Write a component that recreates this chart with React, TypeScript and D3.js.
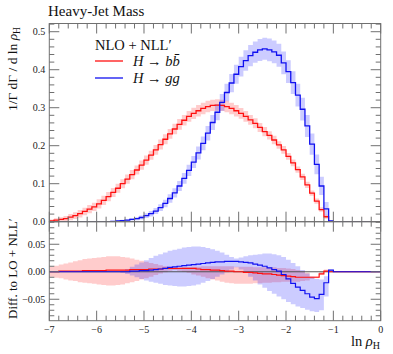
import React from 'react';
import * as d3 from 'd3';

// ---- data (bins of width 0.1 from -7 to 0) ----
const binStart = -7;
const binWidth = 0.1;

const redMain = [
  0.002, 0.004, 0.006, 0.008, 0.012, 0.016, 0.021, 0.027, 0.033, 0.039,
  0.047, 0.056, 0.066, 0.077, 0.088, 0.100, 0.112, 0.124, 0.136, 0.149,
  0.162, 0.175, 0.189, 0.203, 0.217, 0.231, 0.244, 0.256, 0.267, 0.277,
  0.285, 0.292, 0.298, 0.303, 0.306, 0.307, 0.306, 0.303, 0.298, 0.292,
  0.285, 0.277, 0.268, 0.259, 0.248, 0.237, 0.227, 0.215, 0.202, 0.189,
  0.172, 0.155, 0.137, 0.118, 0.097, 0.075, 0.054, 0.032, 0.013, 0,
  0, 0, 0, 0, 0, 0, 0, 0, 0, 0,
];
const redMainErr = [
  0.004, 0.005, 0.006, 0.007, 0.008, 0.009, 0.010, 0.010, 0.011, 0.011,
  0.012, 0.012, 0.012, 0.012, 0.012, 0.012, 0.012, 0.012, 0.012, 0.012,
  0.012, 0.012, 0.013, 0.013, 0.013, 0.013, 0.014, 0.014, 0.014, 0.014,
  0.015, 0.015, 0.015, 0.015, 0.015, 0.015, 0.015, 0.015, 0.015, 0.015,
  0.014, 0.014, 0.013, 0.013, 0.012, 0.012, 0.011, 0.011, 0.010, 0.010,
  0.009, 0.009, 0.008, 0.008, 0.008, 0.007, 0.007, 0.006, 0.005, 0,
  0, 0, 0, 0, 0, 0, 0, 0, 0, 0,
];
const blueMain = [
  0, 0, 0, 0, 0, 0, 0, 0, 0, 0,
  0, 0, 0, 0.001, 0.002, 0.003, 0.004, 0.006, 0.008, 0.011,
  0.016, 0.021, 0.028, 0.037, 0.048, 0.061, 0.076, 0.094, 0.114, 0.135,
  0.157, 0.181, 0.206, 0.233, 0.261, 0.288, 0.314, 0.340, 0.365, 0.388,
  0.408, 0.424, 0.437, 0.446, 0.452, 0.455, 0.452, 0.447, 0.438, 0.418,
  0.395, 0.366, 0.333, 0.296, 0.252, 0.204, 0.151, 0.094, 0.034, 0.002,
  0, 0, 0, 0, 0, 0, 0, 0, 0, 0,
];
const blueMainErr = [
  0, 0, 0, 0, 0, 0, 0, 0, 0, 0,
  0, 0, 0, 0.001, 0.001, 0.002, 0.002, 0.003, 0.004, 0.005,
  0.006, 0.007, 0.008, 0.009, 0.010, 0.011, 0.012, 0.013, 0.014, 0.015,
  0.016, 0.017, 0.018, 0.019, 0.020, 0.021, 0.022, 0.023, 0.024, 0.025,
  0.026, 0.027, 0.028, 0.028, 0.029, 0.029, 0.030, 0.030, 0.030, 0.030,
  0.030, 0.030, 0.030, 0.030, 0.029, 0.028, 0.026, 0.024, 0.018, 0.002,
  0, 0, 0, 0, 0, 0, 0, 0, 0, 0,
];

// lower panel: difference to LO + NLL'
const redDiff = [
  0.000, 0.000, 0.001, 0.001, 0.001, 0.001, 0.001, 0.002, 0.002, 0.002,
  0.002, 0.002, 0.003, 0.003, 0.003, 0.003, 0.003, 0.004, 0.004, 0.004,
  0.004, 0.005, 0.005, 0.005, 0.006, 0.006, 0.006, 0.006, 0.006, 0.006,
  0.006, 0.005, 0.004, 0.004, 0.003, 0.003, 0.002, 0.001, 0.001, 0.000,
  0.000, -0.001, -0.001, -0.002, -0.003, -0.004, -0.004, -0.005, -0.006, -0.007,
  -0.008, -0.009, -0.010, -0.010, -0.010, -0.010, -0.010, -0.004, 0.001, 0,
  0, 0, 0, 0, 0, 0, 0, 0, 0, 0,
];
const redDiffHi = [
  0.009, 0.011, 0.013, 0.015, 0.017, 0.019, 0.021, 0.023, 0.024, 0.025,
  0.026, 0.027, 0.028, 0.028, 0.028, 0.027, 0.026, 0.024, 0.022, 0.020,
  0.018, 0.016, 0.014, 0.012, 0.010, 0.008, 0.007, 0.007, 0.008, 0.008,
  0.009, 0.009, 0.010, 0.010, 0.010, 0.010, 0.010, 0.010, 0.010, 0.009,
  0.009, 0.009, 0.009, 0.008, 0.008, 0.008, 0.008, 0.008, 0.007, 0.007,
  0.006, 0.005, 0.003, 0.001, -0.002, -0.008, -0.008, 0.000, 0.004, 0,
  0, 0, 0, 0, 0, 0, 0, 0, 0, 0,
];
const redDiffLo = [
  -0.009, -0.011, -0.012, -0.014, -0.016, -0.017, -0.019, -0.020, -0.021, -0.022,
  -0.023, -0.024, -0.025, -0.025, -0.024, -0.023, -0.021, -0.019, -0.017, -0.014,
  -0.012, -0.009, -0.006, -0.003, -0.001, 0.002, 0.003, 0.002, 0.000, -0.002,
  -0.005, -0.007, -0.009, -0.012, -0.014, -0.016, -0.018, -0.020, -0.021, -0.022,
  -0.022, -0.022, -0.022, -0.021, -0.021, -0.020, -0.020, -0.019, -0.019, -0.018,
  -0.018, -0.018, -0.018, -0.017, -0.016, -0.013, -0.012, -0.006, -0.001, 0,
  0, 0, 0, 0, 0, 0, 0, 0, 0, 0,
];
const blueDiff = [
  0, 0, 0, 0, 0, 0, 0, 0, 0, 0,
  0, 0, 0, 0, 0, 0.000, 0.000, 0.001, 0.001, 0.002,
  0.002, 0.003, 0.004, 0.005, 0.006, 0.008, 0.009, 0.010, 0.011, 0.012,
  0.013, 0.014, 0.015, 0.016, 0.017, 0.018, 0.018, 0.019, 0.019, 0.019,
  0.018, 0.017, 0.016, 0.014, 0.012, 0.010, 0.007, 0.004, 0.001, -0.005,
  -0.013, -0.021, -0.028, -0.034, -0.040, -0.046, -0.049, -0.041, -0.020, 0.003,
  0, 0, 0, 0, 0, 0, 0, 0, 0, 0,
];
const blueDiffHi = [
  0, 0, 0, 0, 0, 0, 0, 0, 0, 0,
  0, 0, 0, 0, 0, 0.002, 0.005, 0.009, 0.013, 0.017,
  0.021, 0.025, 0.029, 0.032, 0.035, 0.038, 0.040, 0.042, 0.044, 0.045,
  0.046, 0.046, 0.045, 0.043, 0.041, 0.038, 0.035, 0.031, 0.027, 0.024,
  0.026, 0.028, 0.030, 0.031, 0.032, 0.033, 0.033, 0.032, 0.030, 0.027,
  0.022, 0.016, 0.010, 0.003, -0.003, -0.009, -0.013, -0.014, -0.008, 0.004,
  0, 0, 0, 0, 0, 0, 0, 0, 0, 0,
];
const blueDiffLo = [
  0, 0, 0, 0, 0, 0, 0, 0, 0, 0,
  0, 0, 0, 0, 0, -0.002, -0.004, -0.007, -0.010, -0.013,
  -0.016, -0.018, -0.020, -0.022, -0.024, -0.025, -0.026, -0.027, -0.027, -0.026,
  -0.025, -0.023, -0.020, -0.017, -0.013, -0.009, -0.005, -0.001, 0.004, 0.008,
  0.004, -0.002, -0.009, -0.016, -0.023, -0.029, -0.035, -0.040, -0.045, -0.050,
  -0.055, -0.059, -0.063, -0.066, -0.069, -0.072, -0.073, -0.070, -0.045, 0.002,
  0, 0, 0, 0, 0, 0, 0, 0, 0, 0,
];

const xTicks = [-7, -6, -5, -4, -3, -2, -1, 0];
const xTickLabels = ['\u22127', '\u22126', '\u22125', '\u22124', '\u22123', '\u22122', '\u22121', '0'];
const yMainTicks = [0, 0.1, 0.2, 0.3, 0.4, 0.5];
const yMainTickLabels = ['0.0', '0.1', '0.2', '0.3', '0.4', '0.5'];
const yLowTicks = [-0.05, 0, 0.05];
const yLowTickLabels = ['\u22120.05', '0.00', '0.05'];

// ---- layout ----
const W = 393;
const H = 354;
const L = 49.3, R = 380.7, TOP = 23.5, MID = 221.7, BOT = 320.7;

const x = d3.scaleLinear().domain([-7, 0]).range([L, R]);
const yM = d3.scaleLinear().domain([0, 0.5216]).range([MID, TOP]);
const yL = d3.scaleLinear().domain([-0.089, 0.091]).range([BOT, MID]);

const RED = '#ff1010';
const BLUE = '#1010f0';
const AXIS = '#707070';
const FONT = '"Liberation Serif", "DejaVu Serif", serif';

const edge = (i: number) => binStart + i * binWidth;

function stepPath(vals: number[], y: d3.ScaleLinear<number, number>) {
  const pts = [...vals, vals[vals.length - 1]];
  return d3.line<number>()
    .x((_, i) => x(edge(i)))
    .y((d) => y(d))
    .curve(d3.curveStepAfter)(pts) || '';
}

function bandPath(lo: number[], hi: number[], y: d3.ScaleLinear<number, number>) {
  const idx = d3.range(lo.length + 1);
  return d3.area<number>()
    .x((i) => x(edge(i)))
    .y0((i) => y(lo[Math.min(i, lo.length - 1)]))
    .y1((i) => y(hi[Math.min(i, hi.length - 1)]))
    .curve(d3.curveStepAfter)(idx) || '';
}

const minus = (v: number[], e: number[]) => v.map((d, i) => d - e[i]);
const plus = (v: number[], e: number[]) => v.map((d, i) => d + e[i]);

export default function App() {
  const xMinor = d3.range(-7, 0.0001, 0.2).filter((t) => Math.abs(t - Math.round(t)) > 1e-6);
  const yMainMinor = d3.range(0, 0.522, 0.02).filter((t) => Math.abs(t * 10 - Math.round(t * 10)) > 1e-6);
  const yLowMinor = d3.range(-0.08, 0.0901, 0.01).filter((t) => Math.abs(t * 20 - Math.round(t * 20)) > 1e-6);

  const MAJ = 10, MIN = 5;

  const tickLines: JSX.Element[] = [];
  let k = 0;
  const push = (x1: number, y1: number, x2: number, y2: number) => {
    tickLines.push(<line key={k++} x1={x1} y1={y1} x2={x2} y2={y2} />);
  };
  const xAll = [...xTicks.map((t) => [t, MAJ]), ...xMinor.map((t) => [t, MIN])];
  xAll.forEach(([t, len]) => {
    const px = x(t);
    push(px, TOP, px, TOP + len);
    push(px, MID, px, MID - len);
    push(px, MID, px, MID + len);
    push(px, BOT, px, BOT - len);
  });
  const yMAll = [...yMainTicks.map((t) => [t, MAJ]), ...yMainMinor.map((t) => [t, MIN])];
  yMAll.forEach(([t, len]) => {
    const py = yM(t);
    push(L, py, L + len, py);
    push(R, py, R - len, py);
  });
  const yLAll = [...yLowTicks.map((t) => [t, MAJ]), ...yLowMinor.map((t) => [t, MIN])];
  yLAll.forEach(([t, len]) => {
    const py = yL(t);
    push(L, py, L + len, py);
    push(R, py, R - len, py);
  });

  return (
    <svg width={W} height={H} style={{ position: 'absolute', left: 0, top: 0, background: '#fff' }} fontFamily={FONT}>
      <rect x={0} y={0} width={W} height={H} fill="#fff" />
      <defs>
        <clipPath id="clipMain"><rect x={L} y={TOP} width={R - L} height={MID - TOP} /></clipPath>
        <clipPath id="clipLow"><rect x={L} y={MID} width={R - L} height={BOT - MID} /></clipPath>
      </defs>

      {/* main panel */}
      <g clipPath="url(#clipMain)">
        <path d={bandPath(minus(redMain, redMainErr), plus(redMain, redMainErr), yM)} fill="#ff0000" fillOpacity={0.2} />
        <path d={bandPath(minus(blueMain, blueMainErr), plus(blueMain, blueMainErr), yM)} fill="#0000ff" fillOpacity={0.2} />
        <path d={stepPath(redMain, yM)} fill="none" stroke={RED} strokeWidth={1.3} />
        <path d={stepPath(blueMain, yM)} fill="none" stroke={BLUE} strokeWidth={1.3} />
      </g>

      {/* lower panel */}
      <g clipPath="url(#clipLow)">
        <path d={bandPath(redDiffLo, redDiffHi, yL)} fill="#ff0000" fillOpacity={0.2} />
        <path d={bandPath(blueDiffLo, blueDiffHi, yL)} fill="#0000ff" fillOpacity={0.2} />
        <line x1={L} x2={R} y1={yL(0)} y2={yL(0)} stroke="#444" strokeWidth={0.9} />
        <path d={stepPath(redDiff, yL)} fill="none" stroke={RED} strokeWidth={1.2} />
        <path d={stepPath(blueDiff, yL)} fill="none" stroke={BLUE} strokeWidth={1.2} />
      </g>

      {/* frames and ticks */}
      <g stroke={AXIS} strokeWidth={1} fill="none">
        <rect x={L} y={TOP} width={R - L} height={MID - TOP} />
        <rect x={L} y={MID} width={R - L} height={BOT - MID} />
        {tickLines}
      </g>

      {/* tick labels */}
      <g fontSize={10} fill="#222">
        {yMainTicks.map((t, i) => (
          <text key={'ym' + i} x={L - 4} y={yM(t)} dy="0.35em" textAnchor="end">{yMainTickLabels[i]}</text>
        ))}
        {yLowTicks.map((t, i) => (
          <text key={'yl' + i} x={L - 4} y={yL(t)} dy="0.35em" textAnchor="end">{yLowTickLabels[i]}</text>
        ))}
        {xTicks.map((t, i) => (
          <text key={'x' + i} x={x(t)} y={333} textAnchor="middle">{xTickLabels[i]}</text>
        ))}
      </g>

      {/* title */}
      <text x={48} y={15.5} fontSize={15} fill="#111">Heavy-Jet Mass</text>

      {/* axis labels */}
      <text transform="translate(17,27) rotate(-90)" textAnchor="end" fontSize={13.5} fill="#111">
        1/Γ dΓ / d ln <tspan fontStyle="italic">ρ</tspan><tspan fontSize={9.5} dy={3}>H</tspan>
      </text>
      <text transform="translate(17,319) rotate(-90)" textAnchor="start" fontSize={13} fill="#111">
        Diff. to LO + NLL′
      </text>
      <text x={380} y={346} textAnchor="end" fontSize={14.5} fill="#111">
        ln <tspan fontStyle="italic">ρ</tspan><tspan fontSize={10} dy={3}>H</tspan>
      </text>

      {/* legend */}
      <text x={95} y={50} fontSize={14.5} fill="#111">NLO + NLL′</text>
      <line x1={95} x2={123} y1={61} y2={61} stroke={RED} strokeWidth={1.3} />
      <line x1={95} x2={123} y1={78} y2={78} stroke={BLUE} strokeWidth={1.3} />
      <text x={133} y={65.5} fontSize={14.5} fill="#111">
        <tspan fontStyle="italic">H</tspan> → <tspan fontStyle="italic">b</tspan><tspan fontStyle="italic">{'b\u0304'}</tspan>
      </text>
      <text x={133} y={82.5} fontSize={14.5} fill="#111">
        <tspan fontStyle="italic">H</tspan> → <tspan fontStyle="italic">gg</tspan>
      </text>
    </svg>
  );
}
